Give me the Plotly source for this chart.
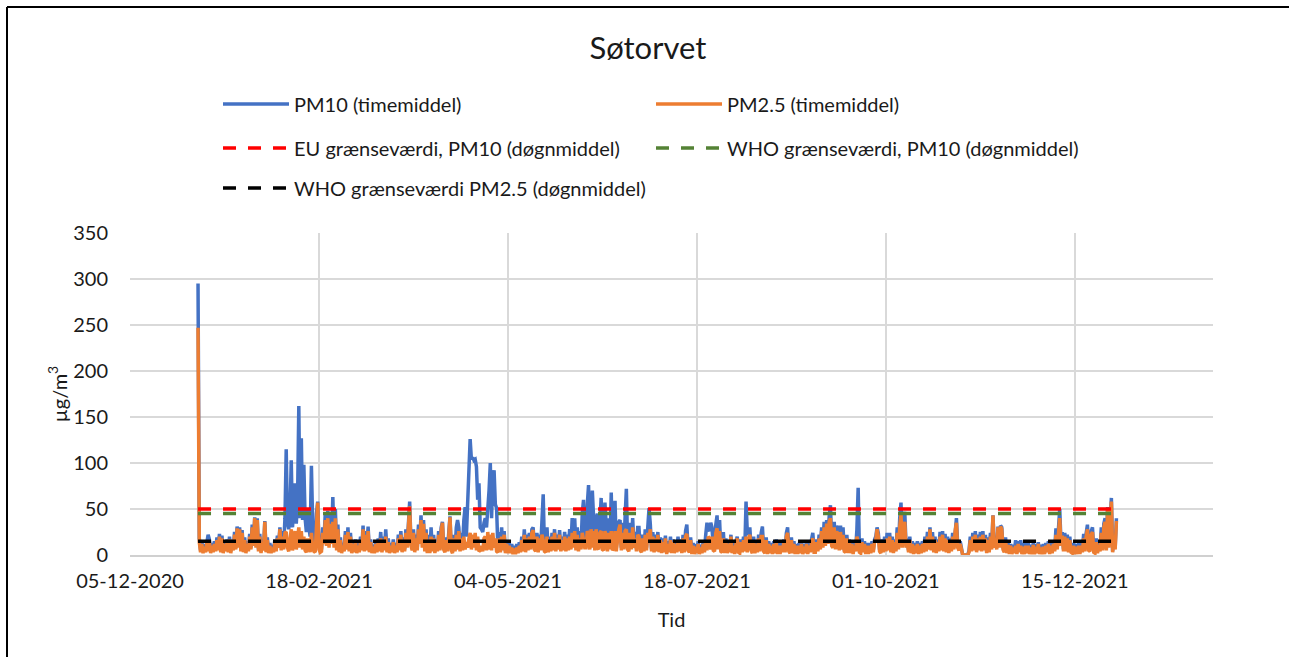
import pandas as pd
import plotly.graph_objects as go

# Timestamps: half-day steps through 2021
times = pd.date_range("2021-01-01", periods=730, freq="12h")

# PM2.5 (µg/m³), one row per week, 14 half-day values each
pm25 = [
    247, 14, 3, 12, 2, 9, 3, 14, 4, 15, 2, 10, 3, 12,
    4, 16, 5, 20, 3, 18, 2, 12, 4, 14, 3, 17, 2, 13,
    5, 22, 6, 29, 8, 28, 4, 24, 3, 16, 2, 12, 4, 20,
    6, 30, 10, 40, 8, 38, 4, 20, 2, 14, 5, 36, 3, 16,
    2, 10, 2, 8, 3, 14, 4, 18, 8, 28, 5, 20, 6, 24,
    25, 8, 4, 22, 28, 5, 20, 26, 6, 24, 30, 8, 26, 6,
    20, 5, 3, 18, 10, 3, 24, 8, 4, 3, 30, 57, 6, 3,
    4, 24, 12, 38, 10, 40, 8, 34, 12, 36, 8, 40, 5, 28,
    3, 16, 2, 10, 4, 22, 6, 25, 4, 20, 2, 12, 3, 14,
    2, 10, 3, 16, 5, 28, 4, 22, 5, 26, 3, 14, 2, 9,
    2, 12, 3, 15, 4, 18, 3, 16, 5, 20, 3, 14, 2, 10,
    3, 14, 2, 10, 3, 18, 5, 22, 3, 16, 4, 24, 8, 40,
    53, 10, 5, 24, 3, 18, 5, 28, 12, 38, 8, 34, 4, 24,
    2, 16, 2, 20, 4, 18, 2, 14, 4, 22, 5, 26, 35, 6,
    3, 16, 4, 20, 41, 5, 2, 18, 4, 22, 6, 26, 4, 18,
    5, 20, 6, 14, 8, 18, 24, 6, 22, 8, 24, 5, 20, 4,
    5, 10, 4, 18, 20, 5, 25, 6, 22, 5, 24, 8, 18, 4,
    3, 18, 3, 20, 5, 22, 2, 12, 2, 10, 2, 8, 1, 7,
    1, 8, 2, 10, 3, 16, 4, 22, 3, 18, 5, 20, 6, 24,
    27, 6, 4, 20, 3, 18, 5, 22, 16, 4, 3, 20, 3, 16,
    4, 20, 5, 24, 4, 18, 6, 22, 4, 16, 5, 20, 4, 18,
    5, 20, 6, 24, 8, 26, 5, 22, 4, 18, 6, 24, 18, 8,
    8, 26, 22, 6, 28, 8, 26, 5, 28, 8, 6, 24, 26, 6,
    5, 26, 20, 4, 24, 6, 26, 5, 8, 26, 4, 20, 28, 33,
    5, 24, 6, 26, 28, 6, 4, 24, 6, 30, 8, 18, 4, 22,
    20, 5, 3, 18, 4, 22, 5, 24, 18, 28, 4, 20, 3, 18,
    4, 22, 3, 16, 2, 14, 3, 18, 1, 12, 3, 16, 2, 14,
    2, 12, 3, 16, 4, 14, 2, 18, 3, 20, 23, 5, 3, 16,
    1, 10, 1, 9, 2, 12, 1, 8, 2, 12, 3, 16, 5, 20,
    18, 6, 20, 5, 4, 24, 29, 6, 26, 4, 3, 18, 2, 14,
    2, 12, 3, 20, 2, 10, 1, 12, 18, 3, 2, 14, 3, 16,
    4, 20, 3, 18, 22, 5, 2, 16, 2, 12, 3, 18, 4, 20,
    20, 4, 2, 16, 1, 12, 2, 10, 1, 12, 2, 14, 1, 10,
    1, 10, 3, 14, 3, 20, 24, 4, 2, 16, 2, 12, 1, 10,
    1, 10, 2, 12, 1, 9, 2, 12, 1, 10, 3, 14, 18, 3,
    3, 14, 4, 18, 6, 26, 8, 30, 10, 34, 12, 36, 40, 10,
    8, 30, 6, 26, 20, 5, 25, 6, 22, 4, 3, 18, 2, 14,
    2, 12, 1, 10, 4, 20, 14, 3, 2, 14, 3, 12, 1, 10,
    1, 10, 2, 12, 3, 14, 16, 28, 20, 4, 2, 14, 3, 16,
    4, 18, 5, 20, 3, 16, 2, 14, 4, 24, 6, 30, 44, 8,
    30, 36, 8, 14, 3, 16, 2, 12, 1, 10, 2, 12, 1, 10,
    2, 12, 3, 16, 4, 20, 6, 28, 5, 20, 3, 16, 2, 14,
    4, 20, 5, 22, 4, 18, 3, 16, 2, 14, 4, 20, 6, 26,
    35, 8, 5, 12, 3, 0, 0, 0, 0, 0, 3, 16, 4, 20,
    5, 22, 3, 18, 5, 20, 4, 22, 5, 18, 2, 16, 3, 20,
    6, 43, 8, 16, 6, 30, 8, 31, 28, 6, 3, 16, 2, 11,
    1, 10, 1, 8, 2, 10, 1, 12, 3, 10, 1, 9, 1, 10,
    2, 10, 1, 8, 1, 11, 1, 9, 2, 12, 1, 8, 1, 9,
    1, 10, 3, 12, 1, 10, 2, 12, 4, 22, 6, 30, 40, 10,
    21, 4, 20, 4, 18, 3, 16, 3, 2, 10, 1, 9, 1, 10,
    1, 10, 3, 18, 4, 20, 28, 5, 4, 22, 25, 3, 2, 14,
    2, 11, 4, 24, 5, 30, 36, 5, 50, 8, 44, 58, 3, 20,
    6, 37,
]

# PM10 (µg/m³), same layout
pm10 = [
    295, 18, 5, 15, 4, 12, 5, 18, 22, 17, 4, 13, 5, 15,
    6, 19, 7, 23, 5, 21, 4, 15, 6, 17, 5, 20, 4, 16,
    7, 25, 8, 31, 10, 30, 6, 27, 5, 19, 4, 15, 6, 23,
    8, 33, 12, 41, 10, 40, 6, 23, 4, 17, 7, 37, 5, 19,
    4, 13, 4, 11, 5, 17, 6, 21, 12, 30, 8, 26, 10, 40,
    115, 35, 28, 45, 103, 30, 50, 78, 34, 60, 162, 40, 127, 38,
    98, 40, 25, 50, 30, 20, 97, 35, 22, 10, 45, 58, 12, 6,
    7, 30, 18, 45, 16, 48, 14, 44, 20, 63, 14, 50, 8, 33,
    5, 19, 4, 13, 6, 26, 8, 30, 6, 24, 4, 15, 5, 17,
    4, 13, 5, 20, 7, 32, 6, 26, 7, 31, 5, 17, 4, 11,
    4, 15, 5, 18, 6, 25, 5, 20, 7, 28, 5, 18, 4, 13,
    5, 17, 4, 13, 5, 22, 7, 26, 5, 19, 6, 28, 10, 45,
    58, 14, 7, 28, 5, 22, 7, 33, 16, 43, 12, 38, 6, 28,
    4, 22, 4, 30, 6, 22, 4, 17, 6, 26, 7, 30, 36, 9,
    5, 19, 6, 24, 42, 7, 4, 22, 6, 30, 38, 30, 6, 24,
    10, 38, 52, 20, 60, 90, 126, 104, 106, 103, 104, 96, 60, 78,
    30, 28, 25, 35, 40, 30, 45, 70, 100, 40, 85, 92, 55, 51,
    8, 25, 5, 30, 8, 26, 4, 16, 4, 14, 4, 12, 3, 10,
    3, 12, 4, 14, 5, 20, 6, 28, 5, 22, 7, 24, 8, 28,
    30, 9, 6, 24, 5, 22, 8, 30, 66, 6, 5, 30, 5, 20,
    7, 24, 8, 28, 7, 22, 9, 27, 7, 20, 8, 25, 7, 22,
    8, 28, 10, 40, 12, 40, 8, 30, 7, 26, 10, 45, 60, 12,
    14, 55, 76, 10, 45, 70, 40, 8, 40, 45, 10, 38, 62, 10,
    8, 57, 30, 7, 40, 10, 68, 8, 12, 59, 7, 35, 36, 38,
    8, 35, 10, 40, 72, 10, 7, 35, 10, 40, 12, 25, 7, 30,
    30, 8, 5, 22, 6, 28, 8, 30, 51, 34, 6, 25, 5, 22,
    6, 25, 5, 19, 4, 18, 5, 21, 3, 15, 5, 20, 4, 17,
    4, 15, 5, 20, 6, 17, 4, 22, 5, 26, 33, 7, 5, 19,
    3, 13, 3, 12, 4, 15, 3, 11, 4, 15, 5, 22, 35, 28,
    26, 35, 30, 8, 6, 33, 43, 9, 38, 6, 5, 25, 4, 18,
    4, 15, 5, 22, 4, 13, 3, 15, 20, 5, 4, 17, 5, 20,
    6, 58, 25, 22, 30, 8, 4, 20, 4, 15, 5, 22, 6, 24,
    31, 6, 4, 19, 3, 15, 4, 13, 3, 15, 4, 17, 3, 13,
    3, 13, 5, 17, 5, 24, 30, 6, 4, 19, 4, 15, 3, 12,
    3, 13, 4, 15, 3, 12, 4, 15, 3, 13, 5, 17, 24, 5,
    5, 17, 6, 22, 8, 30, 12, 36, 14, 38, 16, 42, 54, 14,
    12, 36, 10, 32, 26, 8, 32, 9, 30, 6, 5, 22, 4, 17,
    4, 15, 3, 13, 6, 28, 73, 5, 4, 18, 5, 15, 3, 13,
    3, 13, 4, 15, 5, 17, 20, 30, 24, 6, 4, 17, 5, 20,
    6, 24, 7, 24, 5, 20, 4, 17, 6, 30, 8, 40, 57, 12,
    36, 47, 12, 18, 5, 20, 4, 15, 3, 13, 4, 15, 3, 13,
    4, 15, 5, 20, 6, 25, 8, 30, 7, 25, 5, 20, 4, 17,
    6, 25, 7, 26, 6, 23, 5, 20, 4, 18, 6, 24, 8, 32,
    40, 12, 7, 15, 5, 0, 0, 0, 0, 0, 5, 20, 6, 24,
    7, 26, 5, 22, 7, 25, 6, 26, 7, 22, 4, 19, 5, 24,
    8, 43, 10, 20, 8, 31, 10, 32, 30, 8, 5, 19, 4, 13,
    3, 12, 3, 11, 4, 16, 3, 15, 5, 16, 3, 13, 3, 14,
    4, 14, 3, 11, 3, 13, 3, 12, 4, 14, 3, 11, 3, 12,
    3, 13, 5, 15, 3, 13, 4, 16, 6, 29, 8, 36, 50, 14,
    25, 6, 24, 6, 22, 5, 20, 5, 4, 13, 3, 12, 3, 13,
    3, 13, 5, 23, 6, 24, 33, 7, 6, 26, 30, 5, 4, 18,
    4, 14, 6, 30, 7, 34, 40, 7, 52, 10, 48, 62, 4, 24,
    8, 40,
]

# Daily limit values (µg/m³)
eu_pm10_limit = 50
who_pm10_limit = 45
who_pm25_limit = 15

BLUE = "#4472C4"
ORANGE = "#ED7D31"
FONT = "Lato"
TEXT = "#1a1a1a"
FS = 20

fig = go.Figure()

fig.add_trace(go.Scatter(
    x=times, y=pm10, mode="lines", name="PM10 (timemiddel)",
    line=dict(color=BLUE, width=3.5), legend="legend",
))
fig.add_trace(go.Scatter(
    x=times, y=pm25, mode="lines", name="PM2.5 (timemiddel)",
    line=dict(color=ORANGE, width=3.5), legend="legend",
))

span = [times[0], times[-1]]
fig.add_trace(go.Scatter(
    x=span, y=[eu_pm10_limit] * 2, mode="lines",
    name="EU grænseværdi, PM10 (døgnmiddel)",
    line=dict(color="#FF0000", width=3.5, dash="13px,12px"), legend="legend2",
))
fig.add_trace(go.Scatter(
    x=span, y=[who_pm10_limit] * 2, mode="lines",
    name="WHO grænseværdi, PM10 (døgnmiddel)",
    line=dict(color="#548235", width=3.5, dash="13px,12px"), legend="legend2",
))
fig.add_trace(go.Scatter(
    x=span, y=[who_pm25_limit] * 2, mode="lines",
    name="WHO grænseværdi PM2.5 (døgnmiddel)",
    line=dict(color="#000000", width=3.5, dash="13px,12px"), legend="legend3",
))

# plot area in pixels: left 130, right 1213, top 233, bottom 555
L, R, T, B = 130, 1213, 233, 555
def px_x(px):
    return (px - L) / (R - L)
def px_y(py):
    return (B - py) / (B - T)

legend_common = dict(
    orientation="h", xanchor="left", yanchor="middle",
    font=dict(family=FONT, size=FS, color=TEXT),
    entrywidth=352, entrywidthmode="pixels", itemwidth=66,
    bgcolor="rgba(0,0,0,0)", traceorder="normal",
)

fig.update_layout(
    width=1289, height=657,
    margin=dict(l=L, r=1289 - R, t=T, b=657 - B),
    paper_bgcolor="white", plot_bgcolor="white",
    font=dict(family=FONT, size=FS, color=TEXT),
    title=dict(text="Søtorvet", x=648 / 1289, xref="container", xanchor="center",
               y=1 - 48 / 657, yref="container", yanchor="middle",
               font=dict(family=FONT, size=31, color=TEXT)),
    legend=dict(x=px_x(218), y=px_y(104), **legend_common),
    legend2=dict(x=px_x(218), y=px_y(148), **legend_common),
    legend3=dict(x=px_x(218), y=px_y(188), **legend_common),
    xaxis=dict(
        type="date",
        range=["2020-12-05", "2022-02-07 20:00"],
        tick0="2020-12-05", dtick=75 * 86400000,
        tickformat="%d-%m-%Y",
        showgrid=True, gridcolor="#d9d9d9", gridwidth=1.5,
        showline=True, linecolor="#d0d0d0", linewidth=1.5,
        ticks="", ticklabelstandoff=7,
        tickfont=dict(family=FONT, size=FS, color=TEXT),
        title=dict(text="Tid", standoff=22, font=dict(family=FONT, size=FS, color=TEXT)),
        zeroline=False,
    ),
    yaxis=dict(
        range=[0, 350], dtick=50, tick0=0,
        showgrid=True, gridcolor="#d9d9d9", gridwidth=1.5,
        showline=False, zeroline=False,
        ticks="", ticklabelstandoff=21,
        tickfont=dict(family=FONT, size=FS, color=TEXT),
        title=dict(text="µg/m<sup>3</sup>", standoff=0,
                   font=dict(family=FONT, size=FS, color=TEXT)),
    ),
    shapes=[
        dict(type="line", xref="paper", yref="paper",
             x0=px_x(7), x1=px_x(1290), y0=px_y(7), y1=px_y(7),
             line=dict(color="black", width=2)),
        dict(type="line", xref="paper", yref="paper",
             x0=px_x(7), x1=px_x(7), y0=px_y(7), y1=px_y(660),
             line=dict(color="black", width=2)),
    ],
)

fig.write_html("out.html")
